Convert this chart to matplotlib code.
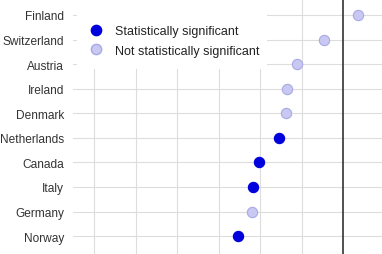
import matplotlib
matplotlib.use("Agg")
import matplotlib.pyplot as plt
from matplotlib.patches import Rectangle
from matplotlib.lines import Line2D

countries = ["Finland", "Switzerland", "Austria", "Ireland", "Denmark",
             "Netherlands", "Canada", "Italy", "Germany", "Norway"]
values = [0.36, -0.46, -1.11, -1.35, -1.37, -1.54, -2.02, -2.17, -2.19, -2.53]
significant = [False, False, False, False, False, True, True, True, False, True]
grid_x = [-6, -5, -4, -3, -2, -1, 0, 1]

plt.rcParams['font.family'] = ['Liberation Sans', 'DejaVu Sans']

sig_color = "#0000DD"
ns_face = "#C8C8F2"
ns_edge = "#A8A8E6"

fig = plt.figure(figsize=(3.82, 2.55), dpi=100)
ax = fig.add_axes([73/382, 0, 1 - 73/382, 1])

ypos = list(range(len(countries)))
for xv in grid_x:
    if xv == 0:
        ax.axvline(xv, color="#333333", lw=1.2, zorder=2)
    else:
        ax.axvline(xv, color="#DDDDDD", lw=0.8, zorder=1)
for yv in ypos:
    ax.axhline(yv, color="#DDDDDD", lw=0.8, zorder=1)

for y, v, s in zip(ypos, values, significant):
    if s:
        ax.scatter(v, y, s=55, color=sig_color, edgecolor=sig_color, lw=0.8, zorder=4)
    else:
        ax.scatter(v, y, s=55, color=ns_face, edgecolor=ns_edge, lw=0.8, zorder=4)

ax.set_xlim(-6.51, 0.94)
ax.set_ylim(9.73, -0.65)
ax.set_yticks(ypos)
ax.set_yticklabels(countries, fontsize=8.6, color="#333333")
ax.set_xticks([])
ax.tick_params(axis='y', length=0, pad=6.3)
for sp in ax.spines.values():
    sp.set_visible(False)

# white legend background
ax.add_patch(Rectangle((0.013, 1 - 70/255), (267 - 77)/309, 70/255,
                       transform=ax.transAxes, facecolor="white",
                       edgecolor="none", zorder=3))

handles = [
    Line2D([], [], marker='o', ls='', markersize=7.4, markerfacecolor=sig_color,
           markeredgecolor=sig_color),
    Line2D([], [], marker='o', ls='', markersize=7.4, markerfacecolor=ns_face,
           markeredgecolor=ns_edge),
]
leg = ax.legend(handles, ["Statistically significant", "Not statistically significant"],
                loc='upper left', bbox_to_anchor=(80/382, 1 - 20/255),
                bbox_transform=fig.transFigure, frameon=False, fontsize=9,
                handletextpad=0.8, labelspacing=0.6, borderpad=0, handlelength=1.5)
leg.set_zorder(5)
for t in leg.get_texts():
    t.set_color("#222222")

fig.savefig("out.png", dpi=100)
